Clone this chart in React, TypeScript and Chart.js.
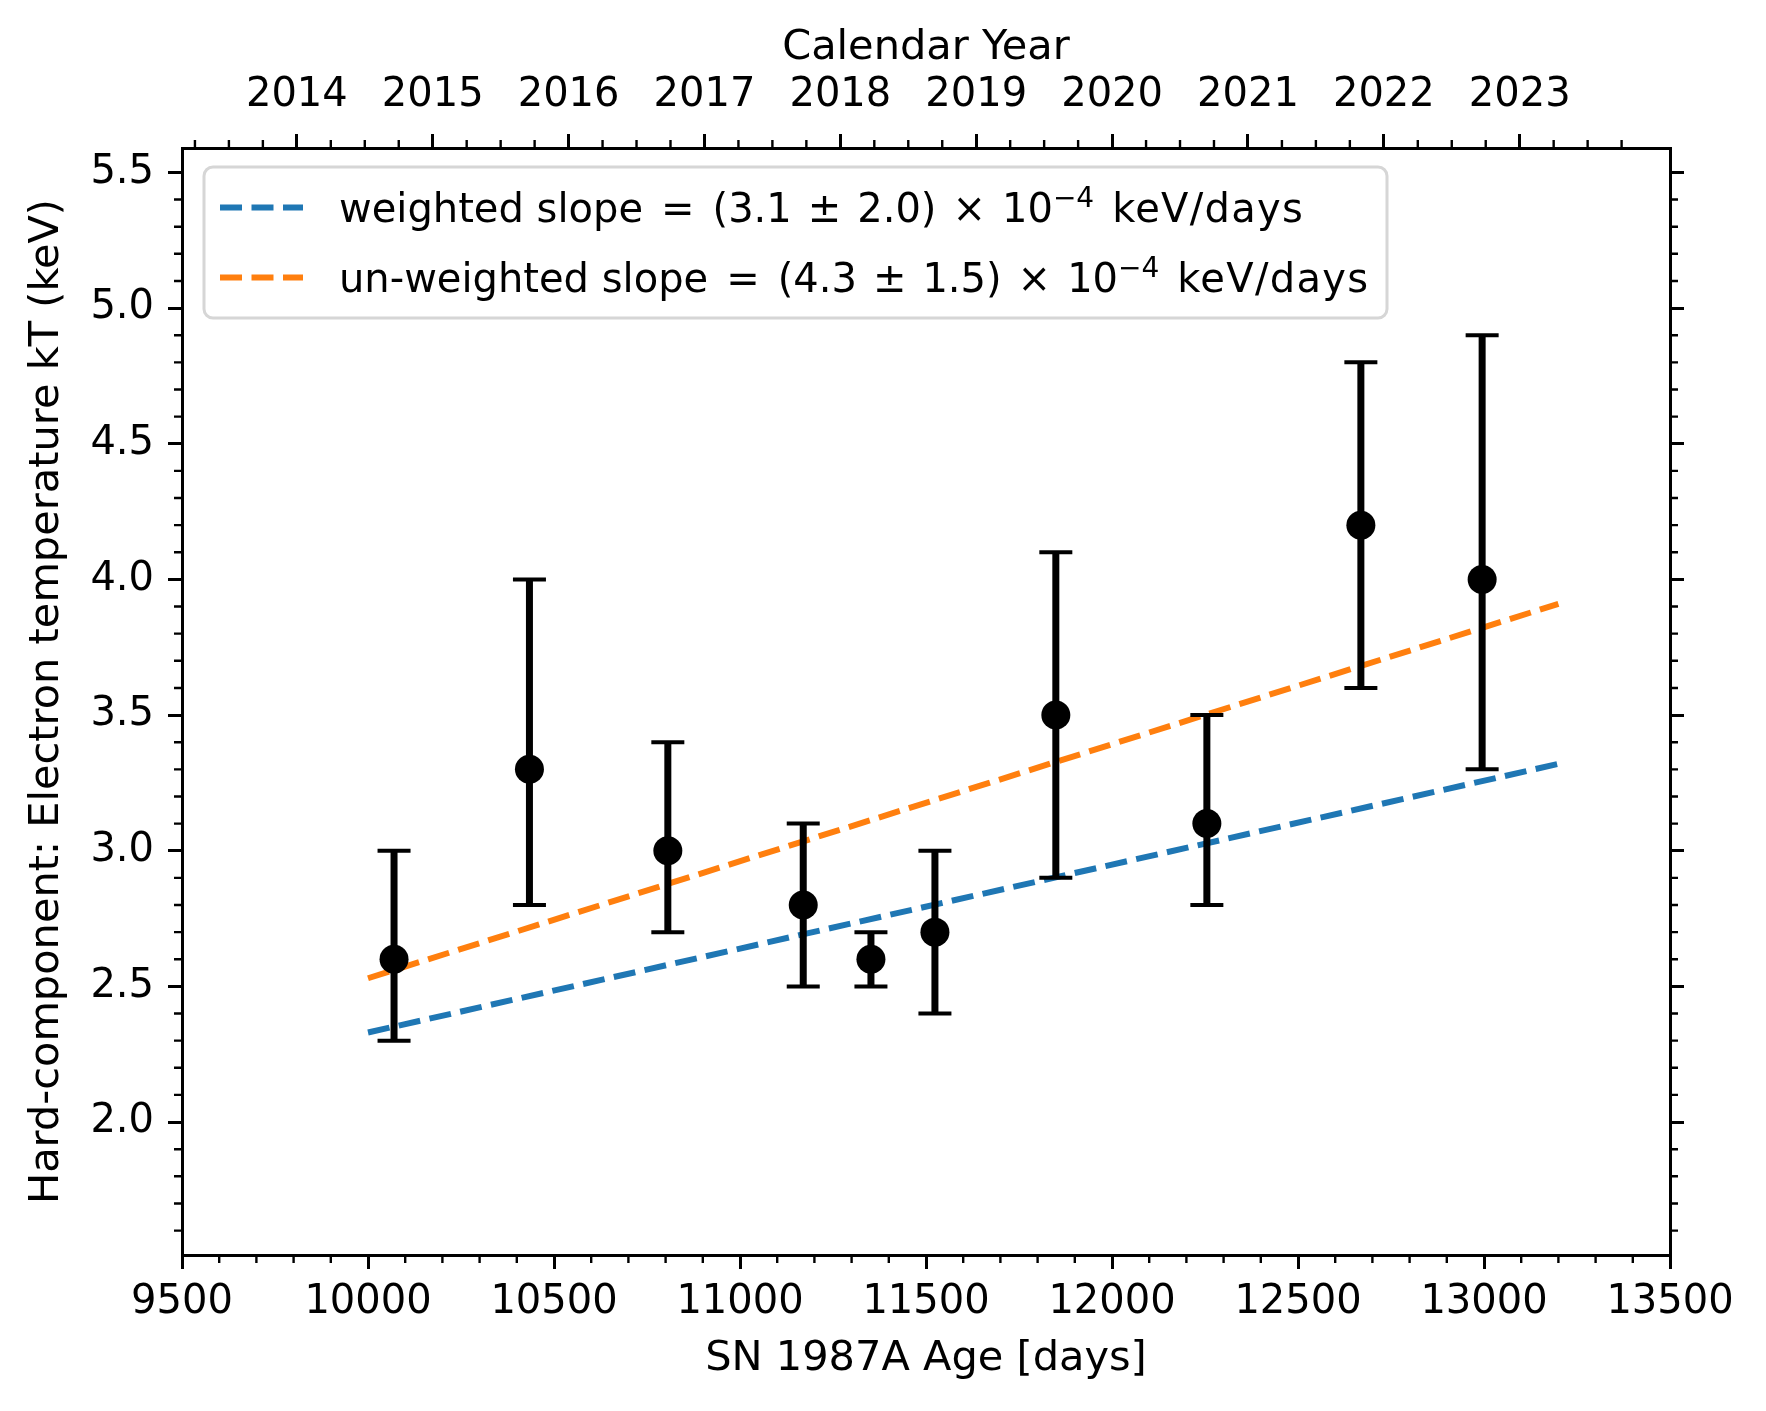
import { useEffect, useRef } from 'react'
import { Chart, registerables } from 'chart.js'

Chart.register(...registerables)

const FONT = "'DejaVu Sans', sans-serif"

// SN 1987A age at each observation and hard-component kT with error range
const ageDays = [10070, 10434, 10806, 11170, 11352, 11524, 11849, 12255, 12669, 12995]
const kT = [2.6, 3.3, 3.0, 2.8, 2.6, 2.7, 3.5, 3.1, 4.2, 4.0]
const kTLow = [2.3, 2.8, 2.7, 2.5, 2.5, 2.4, 2.9, 2.8, 3.6, 3.3]
const kTHigh = [3.0, 4.0, 3.4, 3.1, 2.7, 3.0, 4.1, 3.5, 4.8, 4.9]

// end points of the two linear fits
const fitDays = [10000, 13200]
const weightedFit = [2.33, 3.32]
const unweightedFit = [2.53, 3.91]

// legend text in pieces; '^' marks the superscript
const legendLabels = [
  ['weighted slope', '=', '(3.1', '±', '2.0)', '×', '10', '^−4', 'keV/days'],
  ['un-weighted slope', '=', '(4.3', '±', '1.5)', '×', '10', '^−4', 'keV/days'],
]

// axis ticks
const dayTicks = [9500, 10000, 10500, 11000, 11500, 12000, 12500, 13000, 13500]
const kTTicks = [2.0, 2.5, 3.0, 3.5, 4.0, 4.5, 5.0, 5.5]
const yearTicks = [2014, 2015, 2016, 2017, 2018, 2019, 2020, 2021, 2022, 2023]

const X_MIN = 9500
const X_MAX = 13500
const Y_MIN = 1.51
const Y_MAX = 5.59

// explosion on 1987 Feb 23
const EXPLOSION_YEAR = 1987.1452
const yearToDay = (yr: number) => (yr - EXPLOSION_YEAR) * 365.25

const tickFont = { family: FONT, size: 40 }
const titleFont = { family: FONT, size: 41.5 }

const errorBars = {
  id: 'errorBars',
  beforeDatasetDraw(chart: any, args: any) {
    if (args.index !== 0) return
    const { ctx, scales } = chart
    const x = scales.x
    const y = scales.y
    ctx.save()
    ctx.strokeStyle = '#000'
    ageDays.forEach((d, i) => {
      const px = x.getPixelForValue(d)
      const lo = y.getPixelForValue(kTLow[i])
      const hi = y.getPixelForValue(kTHigh[i])
      ctx.lineWidth = 7
      ctx.beginPath()
      ctx.moveTo(px, lo)
      ctx.lineTo(px, hi)
      ctx.stroke()
      ctx.lineWidth = 4
      ctx.beginPath()
      ctx.moveTo(px - 16.5, lo)
      ctx.lineTo(px + 16.5, lo)
      ctx.moveTo(px - 16.5, hi)
      ctx.lineTo(px + 16.5, hi)
      ctx.stroke()
    })
    ctx.restore()
  },
}

const minorTicks = {
  id: 'minorTicks',
  afterDraw(chart: any) {
    const { ctx, chartArea, scales } = chart
    const len = 8
    ctx.save()
    ctx.strokeStyle = '#000'
    ctx.lineWidth = 2.4
    ctx.beginPath()
    // bottom: every 100 days
    for (let k = 95; k <= 135; k++) {
      if (k % 5 === 0) continue
      const px = scales.x.getPixelForValue(k * 100)
      ctx.moveTo(px, chartArea.bottom)
      ctx.lineTo(px, chartArea.bottom + len)
    }
    // top: quarter years
    for (let yr = 2013; yr <= 2024; yr++) {
      for (let q = 1; q < 4; q++) {
        const d = yearToDay(yr + q / 4)
        if (d < X_MIN || d > X_MAX) continue
        const px = scales.x2.getPixelForValue(d)
        ctx.moveTo(px, chartArea.top)
        ctx.lineTo(px, chartArea.top - len)
      }
    }
    // left and right: every 0.1 keV
    for (let k = 16; k <= 55; k++) {
      if (k % 5 === 0) continue
      const py = scales.y.getPixelForValue(k / 10)
      ctx.moveTo(chartArea.left, py)
      ctx.lineTo(chartArea.left - len, py)
      ctx.moveTo(chartArea.right, py)
      ctx.lineTo(chartArea.right + len, py)
    }
    ctx.stroke()
    ctx.restore()
  },
}

// gap before a piece, roughly like mathtext spacing
const gapBefore = (prev: string, cur: string) => {
  if (cur.startsWith('^')) return 0
  if (prev.startsWith('^')) return 18
  if (cur === '=' || prev === '=') return 18
  if (cur === '±' || cur === '×' || prev === '±' || prev === '×') return 16
  return 12.7
}

const fitLegend = {
  id: 'fitLegend',
  afterDraw(chart: any) {
    const { ctx, chartArea } = chart
    const x0 = chartArea.left + 22
    const y0 = chartArea.top + 19
    ctx.save()
    ctx.beginPath()
    ctx.roundRect(x0, y0, 1183, 151, 9)
    ctx.fillStyle = 'rgba(255,255,255,0.8)'
    ctx.fill()
    ctx.lineWidth = 3
    ctx.strokeStyle = '#d6d6d6'
    ctx.stroke()
    chart.data.datasets.slice(1).forEach((ds: any, i: number) => {
      const base = y0 + 55 + i * 70
      const mid = base - 14.5
      ctx.beginPath()
      ctx.setLineDash(ds.borderDash)
      ctx.lineWidth = ds.borderWidth
      ctx.strokeStyle = ds.borderColor
      ctx.moveTo(x0 + 16, mid)
      ctx.lineTo(x0 + 99, mid)
      ctx.stroke()
      ctx.setLineDash([])
      ctx.fillStyle = '#000'
      ctx.textAlign = 'left'
      ctx.textBaseline = 'alphabetic'
      let x = x0 + 135
      let prev = ''
      legendLabels[i].forEach((piece) => {
        if (prev) x += gapBefore(prev, piece)
        const sup = piece.startsWith('^')
        const text = sup ? piece.slice(1) : piece
        ctx.font = `${sup ? 28 : 40}px ${FONT}`
        ctx.letterSpacing = piece === 'keV/days' ? '1.3px' : '0px'
        ctx.fillText(text, x, sup ? base - 15 : base)
        x += ctx.measureText(text).width
        prev = piece
      })
      ctx.letterSpacing = '0px'
    })
    ctx.restore()
  },
}

const tickGrid = {
  drawOnChartArea: false,
  color: '#000',
  tickColor: '#000',
  lineWidth: 3,
  tickWidth: 3,
  tickLength: 14,
}
const axisBorder = { display: true, color: '#000', width: 3 }

const App = () => {
  const canvasRef = useRef<HTMLCanvasElement | null>(null)

  useEffect(() => {
    document.body.style.margin = '0'
    const ctx = canvasRef.current?.getContext('2d')
    if (!ctx) return

    const chart = new Chart(ctx, {
      type: 'scatter',
      data: {
        datasets: [
          {
            label: 'kT',
            data: ageDays.map((d, i) => ({ x: d, y: kT[i] })),
            pointRadius: 14.5,
            pointBackgroundColor: '#000',
            pointBorderColor: '#000',
            pointBorderWidth: 0,
            showLine: false,
          },
          {
            label: 'weighted slope = (3.1 ± 2.0) × 10⁻⁴ keV/days',
            data: fitDays.map((d, i) => ({ x: d, y: weightedFit[i] })),
            showLine: true,
            borderColor: '#1f77b4',
            borderWidth: 6,
            borderDash: [22, 9.5],
            pointRadius: 0,
            fill: false,
          },
          {
            label: 'un-weighted slope = (4.3 ± 1.5) × 10⁻⁴ keV/days',
            data: fitDays.map((d, i) => ({ x: d, y: unweightedFit[i] })),
            showLine: true,
            borderColor: '#ff7f0e',
            borderWidth: 6,
            borderDash: [22, 9.5],
            pointRadius: 0,
            fill: false,
          },
        ],
      },
      options: {
        responsive: false,
        animation: false,
        events: [],
        layout: { padding: 0 },
        plugins: {
          legend: { display: false },
          tooltip: { enabled: false },
        },
        scales: {
          x: {
            type: 'linear',
            axis: 'x',
            position: 'bottom',
            min: X_MIN,
            max: X_MAX,
            afterBuildTicks: (s: any) => {
              s.ticks = dayTicks.map((v) => ({ value: v }))
            },
            afterFit: (s: any) => {
              s.height = 156
            },
            ticks: {
              font: tickFont,
              color: '#000',
              padding: 10,
              maxRotation: 0,
              autoSkip: false,
              callback: (v: any) => String(v),
            },
            grid: tickGrid,
            border: axisBorder,
            title: {
              display: true,
              text: 'SN 1987A Age [days]',
              font: titleFont,
              color: '#000',
              padding: { top: 0, bottom: 26.7 },
            },
          },
          x2: {
            type: 'linear',
            axis: 'x',
            position: 'top',
            min: X_MIN,
            max: X_MAX,
            afterBuildTicks: (s: any) => {
              s.ticks = yearTicks.map((yr) => ({ value: yearToDay(yr) }))
            },
            afterFit: (s: any) => {
              s.height = 148
            },
            ticks: {
              font: tickFont,
              color: '#000',
              padding: 14,
              maxRotation: 0,
              autoSkip: false,
              callback: (_v: any, i: number) => String(yearTicks[i]),
            },
            grid: tickGrid,
            border: axisBorder,
            title: {
              display: true,
              text: 'Calendar Year',
              font: titleFont,
              color: '#000',
              padding: { top: 23.8, bottom: 0 },
            },
          },
          y: {
            type: 'linear',
            axis: 'y',
            position: 'left',
            min: Y_MIN,
            max: Y_MAX,
            afterBuildTicks: (s: any) => {
              s.ticks = kTTicks.map((v) => ({ value: v }))
            },
            afterFit: (s: any) => {
              s.width = 182
            },
            ticks: {
              font: tickFont,
              color: '#000',
              padding: 14,
              autoSkip: false,
              callback: (v: any) => Number(v).toFixed(1),
            },
            grid: tickGrid,
            border: axisBorder,
            title: {
              display: true,
              text: 'Hard-component: Electron temperature kT (keV)',
              font: titleFont,
              color: '#000',
              padding: { top: 22.8, bottom: 0 },
            },
          },
          y2: {
            type: 'linear',
            axis: 'y',
            position: 'right',
            min: Y_MIN,
            max: Y_MAX,
            afterBuildTicks: (s: any) => {
              s.ticks = kTTicks.map((v) => ({ value: v }))
            },
            afterFit: (s: any) => {
              s.width = 96
            },
            ticks: { display: false },
            grid: tickGrid,
            border: axisBorder,
          },
        },
      },
      plugins: [errorBars, minorTicks, fitLegend],
    } as any)

    return () => {
      chart.destroy()
    }
  }, [])

  return (
    <canvas
      ref={canvasRef}
      width={1766}
      height={1411}
      style={{ display: 'block', width: 1766, height: 1411 }}
    />
  )
}

export default App
